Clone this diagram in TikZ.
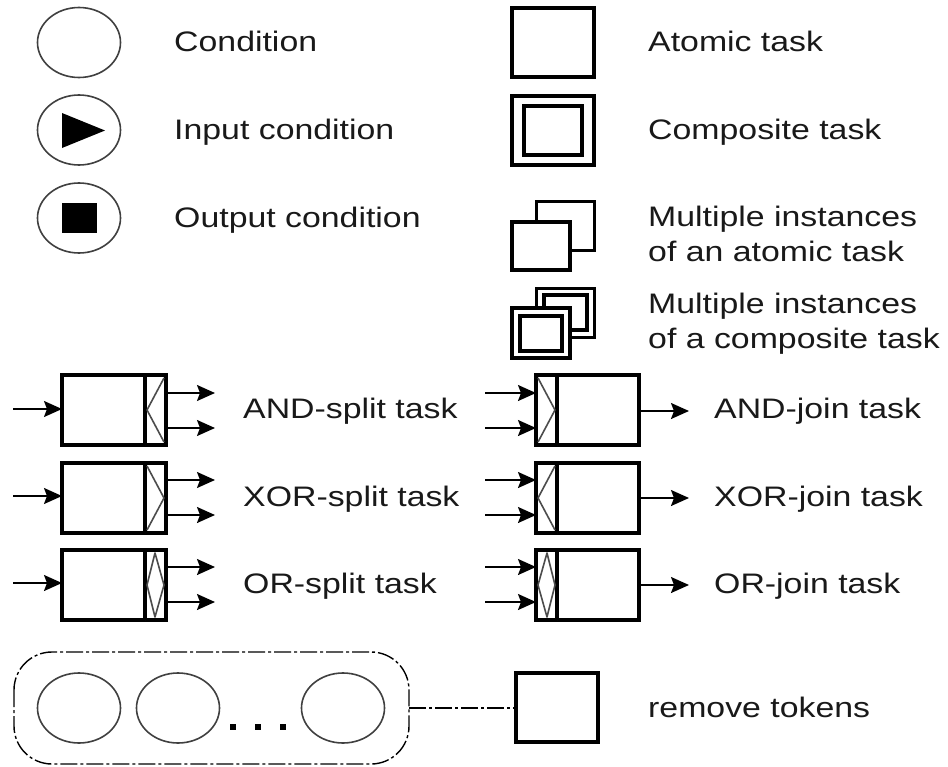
\documentclass[tikz,border=0pt]{standalone}
\usepackage{fontspec}
\setmainfont{Liberation Sans}
\usetikzlibrary{arrows.meta}
\tikzset{
  x=1bp,y=-1bp,
  box/.style={draw=black,line width=3.4bp,fill=white,inner sep=0pt},
  backbox/.style={draw=black,line width=3bp,fill=white},
  circ/.style={draw=black!75,line width=1.6bp},
  lab/.style={anchor=base west,inner sep=0pt,font=\fontsize{28.2bp}{34.5bp}\selectfont,align=left,text=black!90},
  flow/.style={draw=black,line width=1.7bp,-{Stealth[length=18bp,width=16bp,inset=3bp]}},
  gate/.style={draw=black!70,line width=1.6bp,line join=round},
  dd/.style={draw=black,line width=1.4bp,dash pattern=on 17bp off 3bp on 3bp off 3bp},
}
\newcommand{\wide}[1]{\scalebox{1.2}[1]{#1}}
\newcommand{\rc}[5]{\path[#1] (#2,#3) rectangle (#4,#5);}
\newcommand{\tasksplit}[2]{%
  \coordinate (in#2) at (13,#1+34);
  \coordinate (ta#2) at (62,#1+34);
  \coordinate (tb#2) at (166,#1+18);
  \coordinate (tc#2) at (166,#1+53);
  \coordinate (oa#2) at (215,#1+18);
  \coordinate (ob#2) at (215,#1+53);
  \draw[flow] (in#2) -- (ta#2);
  \draw[flow] (tb#2) -- (oa#2);
  \draw[flow] (tc#2) -- (ob#2);
}
\newcommand{\taskjoin}[2]{%
  \coordinate (ia#2) at (485,#1+18);
  \coordinate (ib#2) at (485,#1+53);
  \coordinate (ja#2) at (536,#1+18);
  \coordinate (jb#2) at (536,#1+53);
  \coordinate (jc#2) at (639,#1+36);
  \coordinate (oc#2) at (689,#1+36);
  \draw[flow] (ia#2) -- (ja#2);
  \draw[flow] (ib#2) -- (jb#2);
  \draw[flow] (jc#2) -- (oc#2);
}
\begin{document}
\begin{tikzpicture}
\useasboundingbox (0,0) rectangle (948,767);
\fill[white] (0,0) rectangle (948,767);
% conditions
\draw[circ] (79,42.5) ellipse[x radius=41.5,y radius=35];
\draw[circ] (79,130) ellipse[x radius=41.5,y radius=35];
\fill[black] (62,113) -- (105,130.5) -- (62,148) -- cycle;
\draw[circ] (79,218) ellipse[x radius=41.5,y radius=35];
\fill[black] (62,203) rectangle (97,233);
\node[lab] (t1) at (174,52) {\wide{Condition}};
\node[lab] (t2) at (174,139) {\wide{Input condition}};
\node[lab] (t3) at (174,227) {\wide{Output condition}};
% tasks
\rc{box}{512}{8}{594}{77}
\rc{box}{512}{96}{594}{165}
\rc{box}{524}{106}{582}{155}
\rc{backbox}{536}{201}{594}{250}
\rc{box}{512}{222}{570}{270}
\rc{backbox}{536}{288}{594}{337}
\rc{box}{544}{295}{587}{330}
\rc{box}{512}{308}{570}{358}
\rc{box}{520}{316}{562}{351}
\node[lab] (t4) at (648,52) {\wide{Atomic task}};
\node[lab] (t5) at (648,139) {\wide{Composite task}};
\node[lab] (t6) at (648,261) {\wide{Multiple instances}\\\wide{of an atomic task}};
\node[lab] (t7) at (648,348) {\wide{Multiple instances}\\\wide{of a composite task}};
% split tasks
\tasksplit{375}{A}
\tasksplit{462}{B}
\tasksplit{549}{C}
\rc{box}{62}{375}{166}{445}
\rc{box}{62}{463}{166}{533}
\rc{box}{62}{550}{166}{620}
\draw[box] (145,375) -- (145,445);
\draw[box] (145,463) -- (145,533);
\draw[box] (145,550) -- (145,620);
\draw[gate] (164,378) -- (147,410) -- (164,442);
\draw[gate] (147,466) -- (164,498) -- (147,530);
\draw[gate] (155,553) -- (147,585) -- (155,617) -- (164,585) -- cycle;
\node[lab] (t8) at (243,418) {\wide{AND-split task}};
\node[lab] (t9) at (243,506) {\wide{XOR-split task}};
\node[lab] (t10) at (243,593) {\wide{OR-split task}};
% join tasks
\taskjoin{375}{A}
\taskjoin{462}{B}
\taskjoin{549}{C}
\rc{box}{536}{375}{639}{445}
\rc{box}{536}{463}{639}{533}
\rc{box}{536}{550}{639}{620}
\draw[box] (557,375) -- (557,445);
\draw[box] (557,463) -- (557,533);
\draw[box] (557,550) -- (557,620);
\draw[gate] (538,378) -- (555,410) -- (538,442);
\draw[gate] (555,466) -- (538,498) -- (555,530);
\draw[gate] (547,553) -- (538,585) -- (547,617) -- (555,585) -- cycle;
\node[lab] (t11) at (714,418) {\wide{AND-join task}};
\node[lab] (t12) at (714,506) {\wide{XOR-join task}};
\node[lab] (t13) at (714,593) {\wide{OR-join task}};
% remove tokens
\draw[dd,rounded corners=38bp] (14,652) rectangle (409,764);
\draw[circ] (79,708) ellipse[x radius=41.5,y radius=35];
\draw[circ] (178,708) ellipse[x radius=41.5,y radius=35];
\draw[circ] (343,708) ellipse[x radius=41.5,y radius=35];
\fill[black] (230,724) rectangle (236,730);
\fill[black] (255,724) rectangle (261,730);
\fill[black] (280,724) rectangle (286,730);
\coordinate (rb) at (409,708);
\coordinate (rt) at (515,708);
\draw[dd] (rb) -- (rt);
\rc{box}{516}{673}{598}{742}
\node[lab] (t14) at (648,717) {\wide{remove tokens}};
\end{tikzpicture}
\end{document}
